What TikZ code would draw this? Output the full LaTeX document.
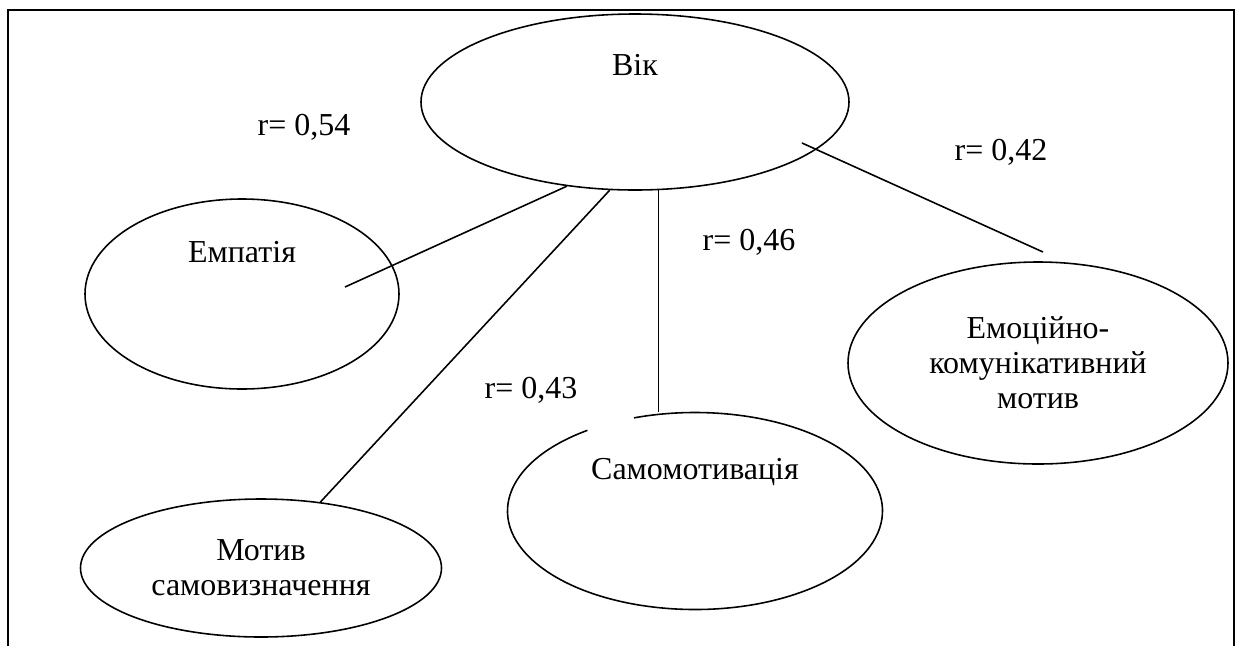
\documentclass[tikz,border=0pt]{standalone}
\usepackage{fontspec}
\setmainfont{Liberation Serif}
\usepackage{tikz}
\usetikzlibrary{shapes.geometric}

\begin{document}
\begin{tikzpicture}[
    ell/.style={ellipse, draw, line width=0.9pt, inner sep=0pt, align=center},
    lbl/.style={anchor=base, inner sep=0pt},
    link/.style={line width=0.9pt},
    frame/.style={line width=1.3pt},
    font=\fontsize{18.2pt}{20pt}\selectfont
]
    \useasboundingbox (0,0) rectangle (24.76,-12.92);
    % Outer frame, open at the bottom
    \draw[frame] (0.16,-12.92) |- (24.68,-0.20) -- (24.68,-12.92);

    % Ellipses
    \node[ell, minimum width=8.56cm, minimum height=3.52cm] (vik) at (12.70,-2.04) {};
    \node[ell, minimum width=6.28cm, minimum height=3.80cm] (emp) at (4.84,-5.88) {};
    \node[ell, minimum width=7.22cm, minimum height=2.76cm] (mot) at (5.22,-11.36) {Мотив\\самовизначення};
    \node[ell, draw=none, minimum width=7.50cm, minimum height=3.94cm] (samo) at (13.90,-10.22) {};
    \node[ell, minimum width=7.60cm, minimum height=4.04cm] (emo) at (20.76,-7.26) {Емоційно-\\комунікативний\\мотив};
    % Самомотивація ellipse, broken at the top left
    \draw[link] ([shift={(125:3.75cm and 1.97cm)}]samo.center) arc[start angle=125, end angle=469, x radius=3.75cm, y radius=1.97cm];

    % Texts placed high in the ellipses
    \node[lbl] (vikt) at (12.70,-1.50) {Вік};
    \node[lbl] (empt) at (4.84,-5.24) {Емпатія};
    \node[lbl] (samot) at (13.90,-9.58) {Самомотивація};

    % Connectors
    \coordinate (empin) at (6.90,-5.74);
    \coordinate (vikin) at (16.04,-2.86);
    \coordinate (emotop) at (20.86,-5.04);
    \draw[link] (vik.231) -- (empin);
    \draw[link] (vik.254) -- (mot.48);
    \draw[link] (vik.285) -- (vik.285 |- samo.north);
    \draw[link] (vikin) -- (emotop);

    % Correlation values
    \node[lbl] (r54) at (6.08,-2.70) {r= 0,54};
    \node[lbl] (r42) at (20.02,-3.20) {r= 0,42};
    \node[lbl] (r46) at (14.98,-5.00) {r= 0,46};
    \node[lbl] (r43) at (10.62,-7.96) {r= 0,43};
\end{tikzpicture}
\end{document}
